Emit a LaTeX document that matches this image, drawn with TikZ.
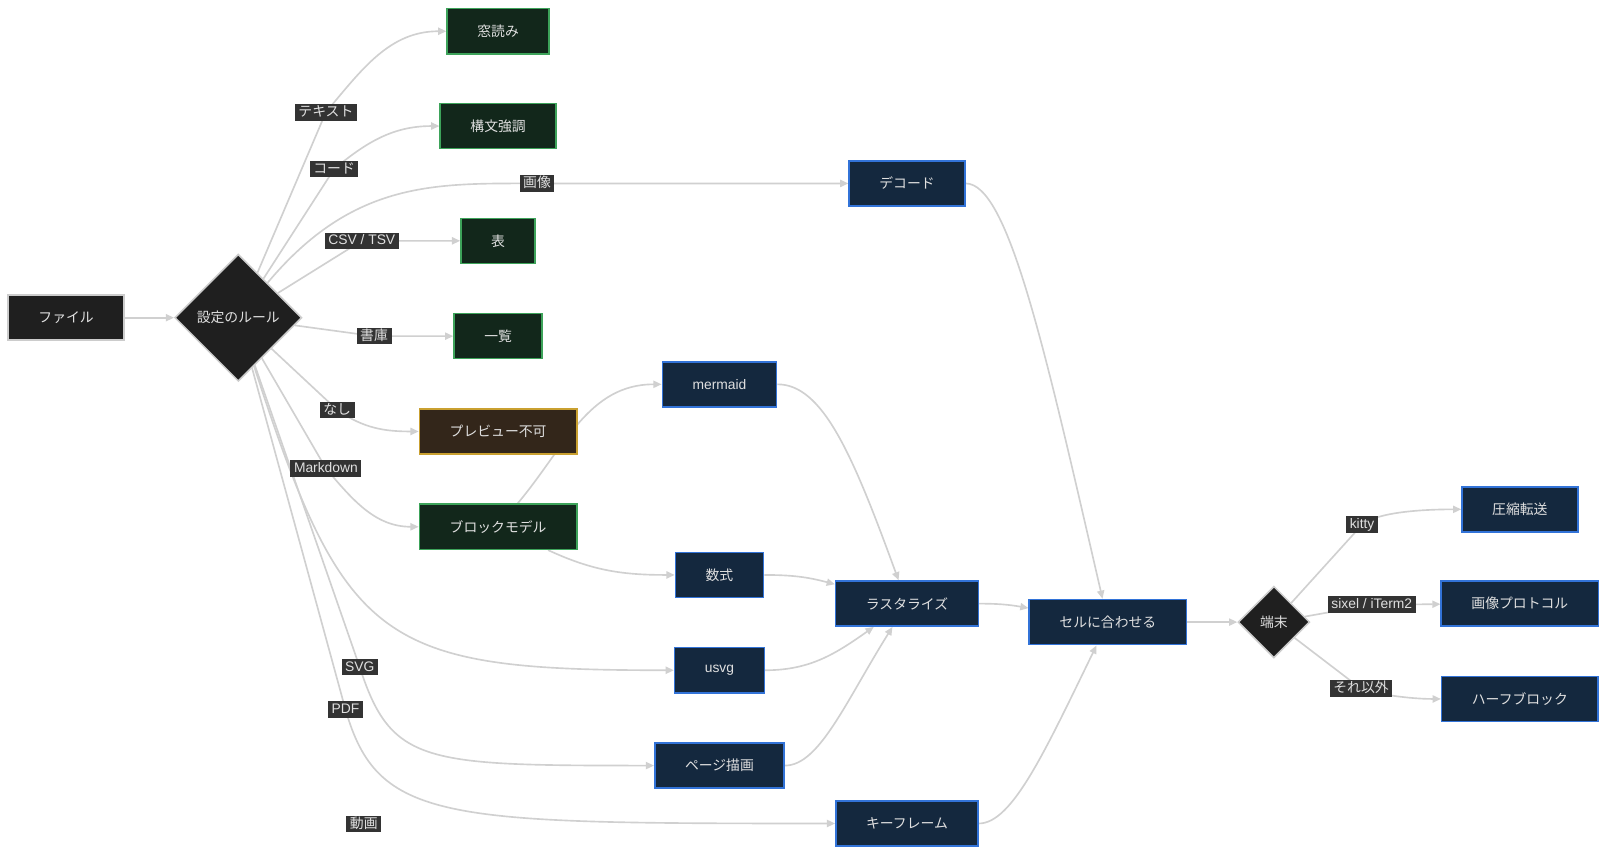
\documentclass[tikz,border=0pt]{standalone}
\usepackage{fontspec}
\setmainfont{Noto Sans CJK JP}
\newfontfamily\lat{Liberation Sans}
\usepackage{tikz}
\usetikzlibrary{shapes, arrows.meta, backgrounds}
\definecolor{wire}{HTML}{D0D0D0}
\definecolor{dfill}{HTML}{1F1F1F}
\definecolor{dline}{HTML}{CCCCCC}
\definecolor{gfill}{HTML}{12271B}
\definecolor{gline}{HTML}{3DA35A}
\definecolor{yfill}{HTML}{33261A}
\definecolor{yline}{HTML}{C9A030}
\definecolor{bfill}{HTML}{14283E}
\definecolor{bline}{HTML}{3273D8}
\definecolor{txt}{HTML}{E0E0E0}
\definecolor{lfill}{HTML}{333333}
\tikzstyle{line} = [draw=wire, -{Triangle[length=8pt,width=7pt]}, line width=1.6pt]
\tikzstyle{dblock} = [rectangle, draw=dline, fill=dfill, text=txt, line width=1.5pt,
  minimum height=44pt, inner xsep=29.5pt, font=\fontsize{13.5}{16}\selectfont]
\tikzstyle{gblock} = [dblock, draw=gline, fill=gfill]
\tikzstyle{yblock} = [dblock, draw=yline, fill=yfill]
\tikzstyle{bblock} = [dblock, draw=bline, fill=bfill]
\tikzstyle{decision} = [diamond, aspect=1, draw=dline, fill=dfill, text=txt, line width=1.5pt,
  inner sep=0pt, font=\fontsize{13.5}{16}\selectfont]
\tikzstyle{etext} = [rectangle, fill=lfill, text=txt, inner xsep=3.5pt, inner ysep=1.6pt,
  text height=10.5pt, text depth=2.5pt, font=\fontsize{13.5}{16}\selectfont]

\begin{document}
\begin{tikzpicture}[x=1pt, y=1pt]

      \useasboundingbox (0,0) rectangle (1568,834);

      %
      % Input and rules
      %

      \node [dblock] (file) at (64.5,524) {ファイル};
      \node [decision, minimum size=124pt] (rule) at (232.5,524) {設定のルール};

      \node [gblock] (win) at (486,803.5) {窓読み};
      \node [gblock] (synt) at (486,711) {構文強調};
      \node [gblock] (tbl) at (486,599) {表};
      \node [gblock] (lst) at (486,506) {一覧};
      \node [yblock] (nopv) at (486,413) {プレビュー不可};
      \node [gblock] (blk) at (486,320) {ブロックモデル};

      %
      % Rendering
      %

      \node [bblock] (deco) at (885,655) {デコード};
      \node [bblock] (merm) at (702,459) {\lat mermaid};
      \node [bblock] (math) at (702,273) {数式};
      \node [bblock] (usvg) at (702,180) {\lat usvg};
      \node [bblock] (page) at (702,87) {ページ描画};
      \node [bblock] (rast) at (885,245) {ラスタライズ};
      \node [bblock] (key) at (885,30.5) {キーフレーム};

      %
      % Output
      %

      \node [bblock] (fit) at (1081,227) {セルに合わせる};
      \node [decision, minimum size=70pt] (term) at (1243,227) {端末};
      \node [bblock] (zip) at (1483,337) {圧縮転送};
      \node [bblock] (proto) at (1483,245) {画像プロトコル};
      \node [bblock] (half) at (1483,152) {ハーフブロック};

      %
      % Edge texts
      %

      \node [etext] (ltext) at (318,724.5) {テキスト};
      \node [etext] (lcode) at (326,669) {コード};
      \node [etext] (limg) at (524,655) {画像};
      \node [etext] (lcsv) at (353,599) {\lat CSV / TSV};
      \node [etext] (larc) at (365,506) {書庫};
      \node [etext] (lnone) at (329,434) {なし};
      \node [etext] (lmd) at (318,377) {\lat Markdown};
      \node [etext] (lsvg) at (351,183) {\lat SVG};
      \node [etext] (lpdf) at (337,142) {\lat PDF};
      \node [etext] (lmov) at (355,30) {動画};
      \node [etext] (lkitty) at (1329,322) {\lat kitty};
      \node [etext] (lsixel) at (1338.5,244) {\lat sixel / iTerm2};
      \node [etext] (lother) at (1328,162) {それ以外};

      \begin{pgfonlayer}{background}
      \fill [white] (0,0) rectangle (1568,834);

      \path [line] (file) -- (rule);
      \path [line] (rule) -- (ltext.center) to[out=50, in=180] (win);
      \path [line] (rule) -- (lcode.center) to[out=40, in=180] (synt);
      \path [line] (rule) to[out=50, in=180, out looseness=1.2, in looseness=0.9] (limg.center) -- (deco);
      \path [line] (rule) -- (lcsv.center) -- (tbl);
      \path [line] (rule) -- (larc.center) -- (lst);
      \path [line] (rule) -- (lnone.center) to[out=-35, in=180] (nopv);
      \path [line] (rule) -- (lmd.center) to[out=-50, in=180] (blk);
      \path [line] (rule) to[out=-72, in=180, looseness=1.45] (usvg);
      \path [line] (rule) -- (lsvg.center) to[out=-72, in=180, out looseness=0.84, in looseness=1.9] (page);
      \path [line] (rule) -- (lpdf.center) to[out=-74, in=180, out looseness=0.6, in looseness=2] (key);

      \path [line] (blk) to[out=50, in=180] (merm);
      \path [line] (blk) to[out=-25, in=180] (math);
      \path [line] (merm) to[out=0, in=110, out looseness=0.5, in looseness=1.5] (rast);
      \path [line] (math) to[out=0, in=165] (rast);
      \path [line] (usvg) to[out=0, in=215] (rast);
      \path [line] (page) to[out=0, in=238, out looseness=0.5, in looseness=1.3] (rast);

      \path [line] (deco) to[out=0, in=103, out looseness=0.25, in looseness=1.5] (fit);
      \path [line] (rast) to[out=0, in=170] (fit);
      \path [line] (key) to[out=0, in=244, out looseness=0.4, in looseness=1.4] (fit);
      \path [line] (fit) -- (term);

      \path [line] (term) -- (lkitty.center) to[out=40, in=180, out looseness=0.5] (zip);
      \path [line] (term) -- (lsixel.center) -- (proto);
      \path [line] (term) -- (lother.center) to[out=-20, in=180, out looseness=0.5] (half);
      \end{pgfonlayer}

    \end{tikzpicture}
\end{document}
